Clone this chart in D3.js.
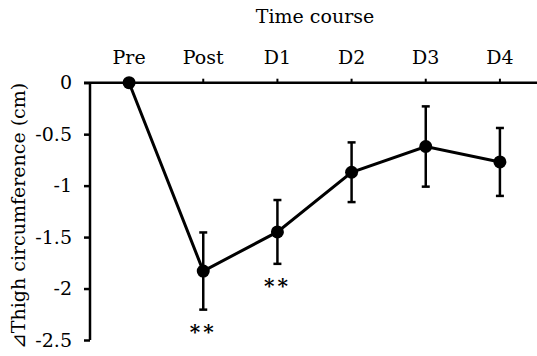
<html>
<head>
<script src="https://d3js.org/d3.v7.min.js"></script>
<style>
  body { margin: 0; background: #fff; }
  text { font-family: "DejaVu Serif", "Liberation Serif", serif; fill: #000; }
</style>
</head>
<body>
<svg id="vis"></svg>
<script>
const categories = ['Pre', 'Post', 'D1', 'D2', 'D3', 'D4'];
const means = [0, -1.83, -1.45, -0.87, -0.62, -0.77];
const sds = [0, 0.375, 0.31, 0.29, 0.39, 0.33];
const signif = ['', '**', '**', '', '', ''];
const yTicks = [0, -0.5, -1, -1.5, -2, -2.5];

const width = 537, height = 356;
const svg = d3.select('#vis').attr('width', width).attr('height', height);

const x = d3.scaleBand().domain(categories).range([92, 537]);
const y = d3.scaleLinear().domain([-2.5, 0]).range([340, 82.7]);
const cx = d => x(d) + x.bandwidth() / 2;
const serif = '"DejaVu Serif", "Liberation Serif", serif';

// y axis
const yAxis = svg.append('g').attr('transform', 'translate(90,0)')
  .call(d3.axisLeft(y).tickValues(yTicks).tickSize(6).tickPadding(12)
    .tickFormat(d => String(d)));
yAxis.select('.domain').attr('stroke-width', 2.5).attr('d', `M0,${y(-2.5)}V${y(0)}`);
yAxis.selectAll('.tick line').attr('stroke-width', 2.5);
yAxis.selectAll('.tick text').attr('font-size', 19).style('font-family', serif);

// x axis on top (at y = 0)
const xAxis = svg.append('g').attr('transform', `translate(0,${y(0)})`)
  .call(d3.axisTop(x).tickSize(4).tickPadding(15));
xAxis.select('.domain').attr('stroke-width', 2.5).attr('d', `M84,0H537`);
xAxis.selectAll('.tick line').attr('stroke-width', 2);
xAxis.selectAll('.tick text').attr('font-size', 19).style('font-family', serif);

svg.append('text').attr('x', 315).attr('y', 23).attr('text-anchor', 'middle')
  .attr('font-size', 19).text('Time course');

svg.append('text').attr('transform', 'translate(25,216) rotate(-90)')
  .attr('text-anchor', 'middle').attr('font-size', 19).text('⊿Thigh circumference (cm)');

const data = categories.map((c, i) => ({c, m: means[i], sd: sds[i], s: signif[i]}));

// error bars
const eb = svg.append('g').selectAll('g').data(data.filter(d => d.sd > 0)).join('g');
eb.append('line').attr('x1', d => cx(d.c)).attr('x2', d => cx(d.c))
  .attr('y1', d => y(d.m + d.sd)).attr('y2', d => y(d.m - d.sd))
  .attr('stroke', '#000').attr('stroke-width', 2.5);
[1, -1].forEach(k => {
  eb.append('line').attr('x1', d => cx(d.c) - 4).attr('x2', d => cx(d.c) + 4)
    .attr('y1', d => y(d.m + k * d.sd)).attr('y2', d => y(d.m + k * d.sd))
    .attr('stroke', '#000').attr('stroke-width', 2.5);
});

// line
svg.append('path').datum(data)
  .attr('d', d3.line().x(d => cx(d.c)).y(d => y(d.m)))
  .attr('fill', 'none').attr('stroke', '#000').attr('stroke-width', 3);

svg.append('g').selectAll('circle').data(data).join('circle')
  .attr('cx', d => cx(d.c)).attr('cy', d => y(d.m)).attr('r', 6.5).attr('fill', '#000');

// significance marks
svg.append('g').selectAll('text').data(data.filter(d => d.s)).join('text')
  .attr('x', d => cx(d.c)).attr('y', d => y(d.m - d.sd) + 29)
  .attr('text-anchor', 'middle').attr('font-size', 20).attr('font-weight', 'bold')
  .attr('letter-spacing', 3).text(d => d.s);
</script>
</body>
</html>
